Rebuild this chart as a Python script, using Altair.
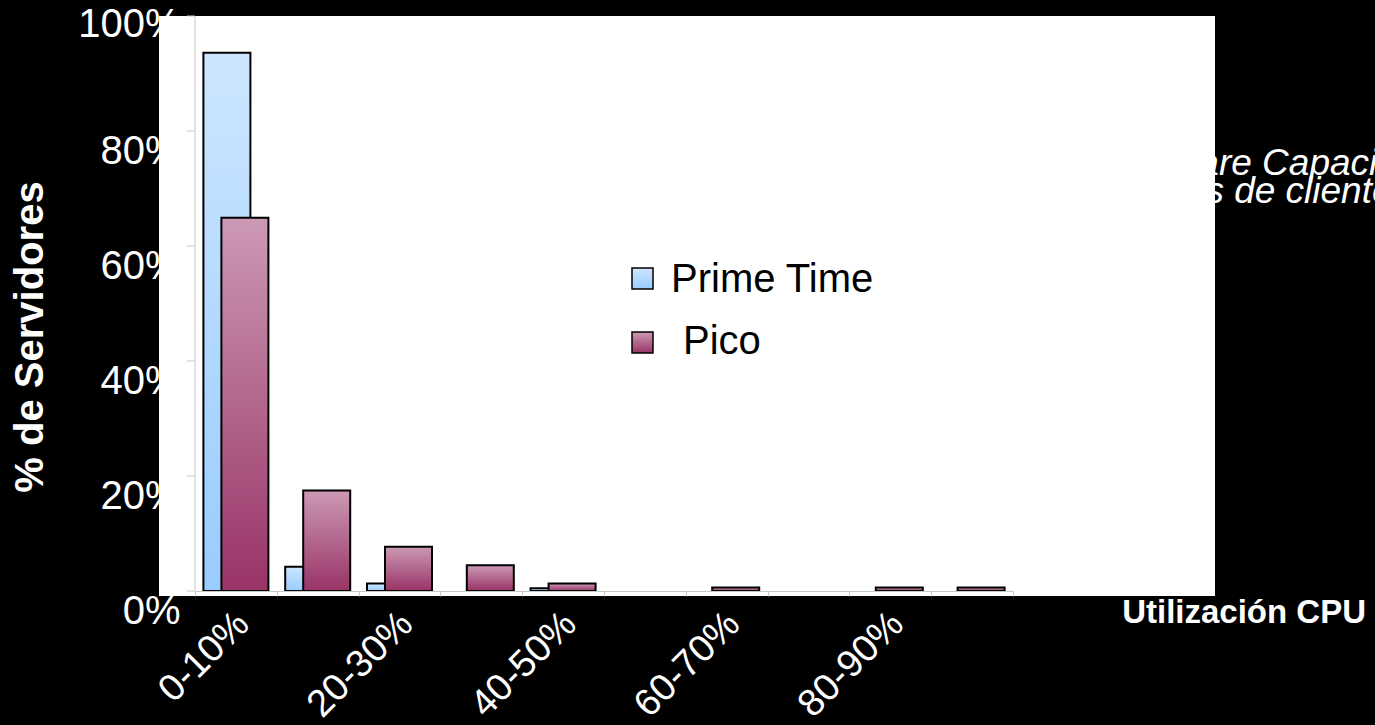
import json
import altair as alt
import pandas as pd

# CPU utilisation buckets and the share of servers in each one (percent)
categories = ["0-10%", "10-20%", "20-30%", "30-40%", "40-50%",
              "50-60%", "60-70%", "70-80%", "80-90%", "90-100%"]
prime_time = [93.6, 4.2, 1.3, 0.0, 0.5, 0.0, 0.0, 0.0, 0.0, 0.0]
pico = [64.9, 17.5, 7.7, 4.5, 1.3, 0.0, 0.6, 0.0, 0.6, 0.6]
series = ["Prime Time", "Pico"]
shown_labels = ["0-10%", "20-30%", "40-50%", "60-70%", "80-90%"]
y_ticks = [0, 20, 40, 60, 80, 100]

# plot-area geometry on the page
LEFT, TOP = 195, 16
W, H = 818, 575
PAGE_W, PAGE_H = 1375, 725

FONT = "Liberation Sans"

rows = []
for cat, a, b in zip(categories, prime_time, pico):
    rows.append({"cat": cat, "serie": series[0], "pct": a})
    rows.append({"cat": cat, "serie": series[1], "pct": b})
df = pd.DataFrame(rows)

blue_grad = alt.Gradient(
    gradient="linear", x1=0, y1=0, x2=0, y2=1,
    stops=[alt.GradientStop(color="#cde6ff", offset=0),
           alt.GradientStop(color="#99ccff", offset=1)],
)
pico_grad = alt.Gradient(
    gradient="linear", x1=0, y1=0, x2=0, y2=1,
    stops=[alt.GradientStop(color="#cc99b5", offset=0),
           alt.GradientStop(color="#993366", offset=1)],
)

x_axis = alt.Axis(
    title=None,
    labelExpr="indexof(%s, datum.value) >= 0 ? datum.value : ''" % json.dumps(shown_labels),
    labelAngle=315, labelAlign="right", labelBaseline="middle",
    labelFont=FONT, labelFontSize=38, labelColor="white",
    labelPadding=22, labelOffset=7, labelOverlap=False, labelBound=False,
    tickBand="extent", tickSize=5, tickColor="#c8c8c8",
    domainColor="#c8c8c8", domainWidth=1, grid=False, zindex=1,
)
y_axis = alt.Axis(
    title=None, values=y_ticks, labelExpr="datum.value + '%'",
    domain=False, grid=False, tickOpacity=0, tickSize=8, labelPadding=7,
    labelFont=FONT, labelFontSize=40, labelColor="white",
    labelAlign="right", labelBaseline="middle",
    labelOffset={"condition": {"test": "datum.value == 100", "value": 8}, "value": 20},
    zindex=0,
)
x_scale = alt.Scale(domain=categories, paddingInner=0, paddingOuter=0)
y_scale = alt.Scale(domain=[0, 100], nice=False, zero=True)

base = alt.Chart(df).transform_filter("datum.pct > 0")


def bars(name, grad, offset):
    return base.transform_filter(alt.datum.serie == name).mark_bar(
        width=47, xOffset=offset, color=grad, stroke="black", strokeWidth=2
    ).encode(
        x=alt.X("cat:N", sort=categories, scale=x_scale, axis=x_axis),
        y=alt.Y("pct:Q", scale=y_scale, axis=y_axis, stack=None),
    )


bars_prime = bars(series[0], blue_grad, -9)
bars_pico = bars(series[1], pico_grad, 9)

# note text partly covered by the white chart panel
note1 = alt.Chart(pd.DataFrame({"t": ["Fuente: IBM Software Capacity Planning"]})).mark_text(
    font=FONT, fontSize=37, fontStyle="italic", color="white", align="left", baseline="alphabetic"
).encode(text="t:N", x=alt.value(894 - LEFT), y=alt.value(175 - TOP))
note2 = alt.Chart(pd.DataFrame({"t": ["Análisis de servidores de clientes"]})).mark_text(
    font=FONT, fontSize=37, fontStyle="italic", color="white", align="left", baseline="alphabetic"
).encode(text="t:N", x=alt.value(864 - LEFT), y=alt.value(203 - TOP))

# white chart panel
panel = alt.Chart(pd.DataFrame({"k": [0]})).mark_rect(color="white").encode(
    x=alt.value(159 - LEFT), x2=alt.value(1215 - LEFT),
    y=alt.value(0), y2=alt.value(596 - TOP),
)

# y axis line and ticks drawn over the panel
tick_df = pd.DataFrame({"v": y_ticks})
y_ticks_layer = alt.Chart(tick_df).mark_rule(color="#c8c8c8", strokeWidth=1).encode(
    y=alt.Y("v:Q", scale=y_scale, axis=y_axis),
    x=alt.value(-8), x2=alt.value(0),
)
y_domain = alt.Chart(pd.DataFrame({"k": [0]})).mark_rule(color="#c8c8c8", strokeWidth=1).encode(
    x=alt.value(0), y=alt.value(0), y2=alt.value(H),
)

# legend
sw_prime = alt.Chart(pd.DataFrame({"k": [series[0]]})).mark_rect(
    color=blue_grad, stroke="black", strokeWidth=1.5
).encode(x=alt.value(632 - LEFT), x2=alt.value(653 - LEFT),
         y=alt.value(268 - TOP), y2=alt.value(289 - TOP))
sw_pico = alt.Chart(pd.DataFrame({"k": [series[1]]})).mark_rect(
    color=pico_grad, stroke="black", strokeWidth=1.5
).encode(x=alt.value(632 - LEFT), x2=alt.value(653 - LEFT),
         y=alt.value(332 - TOP), y2=alt.value(353 - TOP))
lg_prime = alt.Chart(pd.DataFrame({"t": [series[0]]})).mark_text(
    font=FONT, fontSize=40, color="black", align="left", baseline="alphabetic"
).encode(text="t:N", x=alt.value(671 - LEFT), y=alt.value(292 - TOP))
lg_pico = alt.Chart(pd.DataFrame({"t": [series[1]]})).mark_text(
    font=FONT, fontSize=40, color="black", align="left", baseline="alphabetic"
).encode(text="t:N", x=alt.value(683 - LEFT), y=alt.value(354 - TOP))

# axis titles
y_title = alt.Chart(pd.DataFrame({"t": ["% de Servidores"]})).mark_text(
    font=FONT, fontSize=40, fontWeight="bold", color="white", angle=270,
    align="center", baseline="middle"
).encode(text="t:N", x=alt.value(31 - LEFT), y=alt.value(337 - TOP))
x_title = alt.Chart(pd.DataFrame({"t": ["Utilización CPU"]})).mark_text(
    font=FONT, fontSize=33, fontWeight="bold", color="white",
    align="right", baseline="alphabetic"
).encode(text="t:N", x=alt.value(1366 - LEFT), y=alt.value(623 - TOP))

chart = alt.layer(
    note1, note2, panel, bars_prime, bars_pico, y_ticks_layer, y_domain,
    sw_prime, sw_pico, lg_prime, lg_pico, y_title, x_title,
).properties(
    width=W, height=H,
    padding={"left": LEFT, "top": TOP, "right": PAGE_W - LEFT - W, "bottom": PAGE_H - TOP - H},
    autosize=alt.AutoSizeParams(type="none"),
).configure(
    background="black",
).configure_view(stroke=None)

chart.save("out.html", embed_options={"renderer": "svg", "actions": False})
